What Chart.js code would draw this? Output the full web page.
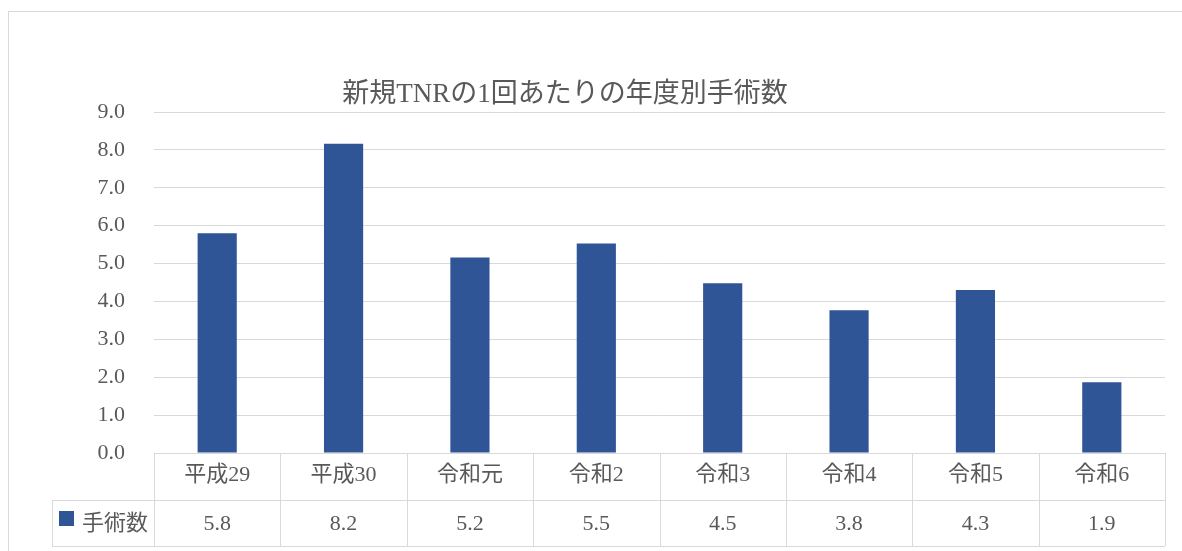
<!DOCTYPE html>
<html>
<head>
<meta charset="utf-8">
<script src="https://cdn.jsdelivr.net/npm/chart.js@4/dist/chart.umd.min.js"></script>
<style>
html,body{margin:0;padding:0;background:#fff;}
#wrap{width:1182px;height:551px;position:relative;}
</style>
</head>
<body>
<div id="wrap"><canvas id="c" width="1182" height="551"></canvas></div>
<script>
const titleText = "新規TNRの1回あたりの年度別手術数";
const categories = ["平成29", "平成30", "令和元", "令和2", "令和3", "令和4", "令和5", "令和6"];
const seriesName = "手術数";
const surgeries = [5.8, 8.16, 5.16, 5.53, 4.48, 3.77, 4.3, 1.87];
const yTicks = [0, 1, 2, 3, 4, 5, 6, 7, 8, 9];

const FONT = '"Liberation Serif", "Noto Sans CJK JP", serif';
const TEXT = '#595959';
const LINE = '#d9d9d9';
const BAR = '#2f5597';

const tablePlugin = {
  id: 'tablePlugin',
  beforeDraw(chart) {
    const ctx = chart.ctx;
    ctx.save();
    ctx.fillStyle = '#fff';
    ctx.fillRect(0, 0, chart.width, chart.height);
    ctx.strokeStyle = LINE;
    ctx.lineWidth = 1;
    ctx.strokeRect(8.5, 11.5, chart.width + 20, chart.height + 20);
    ctx.restore();
  },
  afterDraw(chart) {
    const ctx = chart.ctx;
    const area = chart.chartArea;
    const xs = chart.scales.x;
    const n = categories.length;
    const step = (area.right - area.left) / n;
    const top = area.bottom;
    const mid = top + 47;
    const bot = mid + 46;
    const leftCol = 52;
    ctx.save();
    ctx.strokeStyle = LINE;
    ctx.lineWidth = 1;
    ctx.beginPath();
    ctx.moveTo(area.left, top + 0.5); ctx.lineTo(area.right, top + 0.5);
    ctx.moveTo(leftCol, mid + 0.5); ctx.lineTo(area.right, mid + 0.5);
    ctx.moveTo(leftCol, bot + 0.5); ctx.lineTo(area.right, bot + 0.5);
    for (let i = 0; i <= n; i++) {
      const x = Math.round(area.left + i * step) + 0.5;
      ctx.moveTo(x, top); ctx.lineTo(x, bot);
    }
    ctx.moveTo(leftCol + 0.5, mid); ctx.lineTo(leftCol + 0.5, bot);
    ctx.stroke();

    // legend key cell
    ctx.fillStyle = BAR;
    ctx.fillRect(59, 511, 15, 15);
    ctx.fillStyle = TEXT;
    ctx.font = '22px ' + FONT;
    ctx.textAlign = 'left';
    ctx.textBaseline = 'middle';
    ctx.fillText(seriesName, 82, (mid + bot) / 2 + 1);

    // values
    ctx.textAlign = 'center';
    surgeries.forEach((v, i) => {
      ctx.fillText(v.toFixed(1), xs.getPixelForValue(i), (mid + bot) / 2 + 1);
    });

    // title
    ctx.font = '27px ' + FONT;
    ctx.fillText(titleText, 565, 95);
    ctx.restore();
  }
};

new Chart(document.getElementById('c'), {
  type: 'bar',
  data: {
    labels: categories,
    datasets: [{
      label: seriesName,
      data: surgeries,
      backgroundColor: BAR,
      borderWidth: 0,
      categoryPercentage: 1,
      barPercentage: 0.31
    }]
  },
  options: {
    responsive: false,
    animation: false,
    devicePixelRatio: 1,
    layout: { padding: { left: 0, right: 17, top: 112, bottom: 51 } },
    plugins: {
      legend: { display: false },
      title: { display: false },
      tooltip: { enabled: false }
    },
    scales: {
      x: {
        grid: { display: false, drawTicks: false },
        border: { display: false },
        ticks: {
          color: TEXT,
          font: { family: FONT, size: 22 },
          padding: 9,
          maxRotation: 0
        },
        afterFit(scale) { scale.height = 47; }
      },
      y: {
        min: 0,
        max: 9,
        afterBuildTicks(scale) { scale.ticks = yTicks.map(v => ({ value: v })); },
        grid: { color: LINE, lineWidth: 1, drawTicks: false },
        border: { display: false },
        ticks: {
          color: TEXT,
          font: { family: FONT, size: 22 },
          padding: 29,
          callback: v => Number(v).toFixed(1)
        },
        afterFit(scale) { scale.width = 154; }
      }
    }
  },
  plugins: [tablePlugin]
});
</script>
</body>
</html>
